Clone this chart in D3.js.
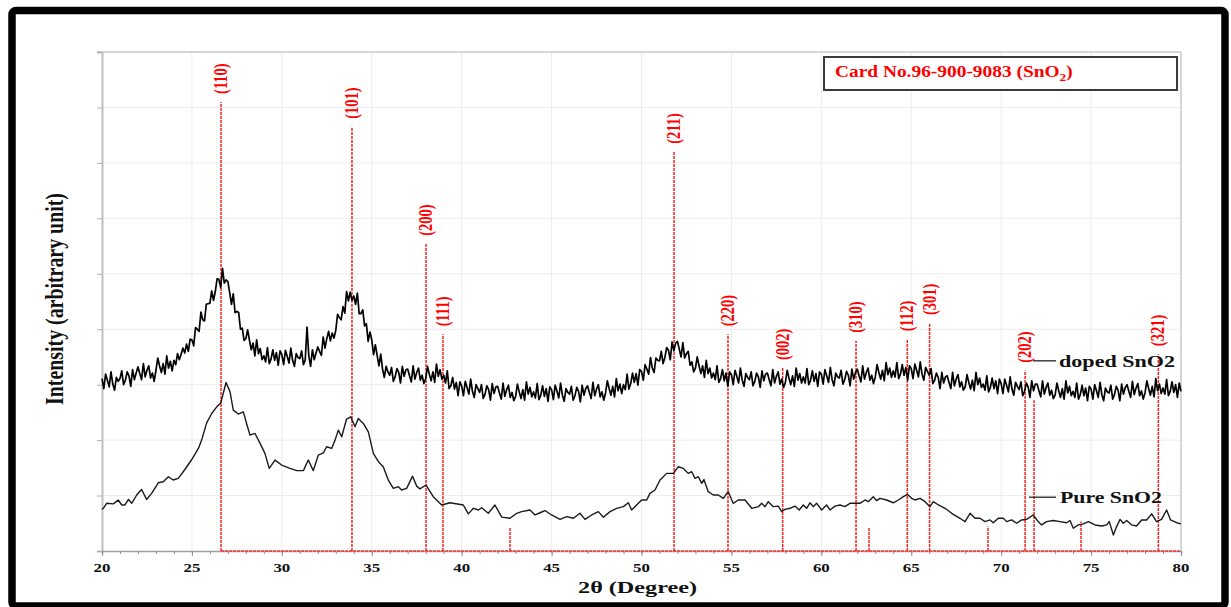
<!DOCTYPE html>
<html><head><meta charset="utf-8">
<script src="https://cdn.jsdelivr.net/npm/d3@7"></script>
<style>
body{margin:0;background:#fff}
svg{display:block}
text{font-family:"Liberation Serif","Times New Roman",serif;font-weight:bold}
</style>
</head><body>
<svg id="c" width="1231" height="607"></svg>
<script>
// ---------- DATA ----------
const xTickValues = [20,25,30,35,40,45,50,55,60,65,70,75,80];
const xMinorTicks = d3.range(20,81,1);
const yGridValues = [0,100,200,300,400,500,600,700,800,900];

// Doped SnO2: intensity sampled every 0.1° from 20.0° to 80.0°
const dopedStart = 20, dopedStep = 0.1;
const dopedIntensity = [
311,293,319,308,296,323,301,290,313,306,
311,325,300,308,323,316,297,327,309,321,
332,320,309,338,314,326,334,312,321,306,
326,348,334,322,338,319,352,330,342,325,
344,336,356,345,355,366,357,373,360,382,
381,370,403,400,396,431,417,415,445,446,
447,469,452,468,491,490,475,510,483,489,
486,466,445,464,430,432,430,400,402,380,
383,399,380,363,375,352,381,356,365,345,
352,341,367,338,346,363,344,358,335,361,
354,336,362,351,339,366,344,333,356,349,
347,361,336,344,404,352,333,363,345,357,
368,360,353,386,366,383,396,379,393,384,
398,427,421,417,441,429,468,451,467,452,
460,445,465,428,428,435,406,410,378,395,
381,354,372,353,334,355,328,313,333,323,
317,331,306,314,329,322,303,333,315,327,
328,316,305,334,310,322,330,308,317,302,
311,333,319,307,323,304,337,315,327,310,
317,303,325,293,298,313,292,304,280,305,
298,280,306,295,283,310,288,277,300,293,
286,300,275,283,298,291,272,302,284,296,
297,285,274,303,279,291,299,277,286,271,
279,301,287,275,291,272,305,283,295,278,
287,276,302,273,281,298,279,293,270,296,
291,273,299,288,276,303,281,270,293,286,
283,297,272,280,295,288,269,299,281,293,
298,286,275,304,280,292,300,278,287,272,
285,307,293,281,297,278,311,289,301,284,
300,291,319,292,302,321,304,320,299,327,
324,308,336,328,319,349,330,322,348,344,
343,360,338,349,367,362,345,377,361,375,
378,364,350,376,348,356,360,335,341,323,
330,350,334,320,334,313,344,320,330,312,
321,309,334,304,311,327,307,321,297,323,
318,300,326,315,303,330,308,297,320,313,
309,323,298,306,321,314,295,325,307,319,
321,309,298,327,303,315,323,301,310,295,
304,326,312,300,316,297,330,308,320,303,
314,303,329,300,308,325,306,320,297,323,
319,301,327,316,304,331,309,298,321,314,
312,326,301,309,324,317,298,328,310,322,
328,316,305,334,310,322,330,308,317,302,
314,336,322,310,326,307,340,318,330,313,
325,314,340,311,319,336,317,331,308,334,
329,311,337,326,314,341,319,308,331,324,
317,329,302,308,321,313,293,322,303,314,
316,304,293,322,298,310,318,296,305,290,
296,318,304,292,308,289,322,300,312,295,
301,290,316,287,295,312,293,307,284,310,
302,284,310,299,287,314,292,281,304,297,
291,305,280,288,303,296,277,307,289,301,
301,289,278,307,283,295,303,281,290,275,
281,303,289,277,293,274,307,285,297,280,
288,277,303,274,282,299,280,294,271,297,
292,274,300,289,277,304,282,271,294,287,
285,299,274,282,297,290,271,301,283,295,
300,288,277,306,282,294,302,280,289,274,
285,307,293,281,297,278,311,289,301,284,
294,283,309,280,288,305,286,300,277,303,
288
];

// Pure SnO2
const pureAngle = [20.0,20.07,20.26,20.63,20.9,21.1,21.28,21.47,21.65,21.93,22.2,22.48,22.76,23.13,23.41,23.69,23.96,24.24,24.61,24.99,25.36,25.54,25.82,26.1,26.38,26.6,26.9,27.12,27.3,27.58,27.86,28.04,28.23,28.51,28.79,29.06,29.3,29.62,29.99,30.45,30.83,31.2,31.47,31.75,32.03,32.31,32.49,32.77,32.96,33.14,33.33,33.6,33.83,34.07,34.25,34.53,34.81,35.09,35.37,35.64,35.92,36.2,36.48,36.66,36.94,37.27,37.5,37.68,38.02,38.42,38.89,39.35,40.09,40.37,40.65,40.93,41.11,41.48,41.85,42.23,42.69,43.06,43.34,43.8,44.08,44.36,44.63,45.0,45.47,45.84,46.21,46.58,46.86,47.23,47.6,47.88,48.25,48.62,48.99,49.27,49.45,49.73,50.01,50.29,50.47,50.75,51.03,51.4,51.77,52.05,52.33,52.6,52.79,52.98,53.16,53.35,53.47,53.71,53.99,54.27,54.55,54.82,55.1,55.38,55.76,56.13,56.5,56.68,56.87,57.05,57.33,57.61,57.79,57.98,58.26,58.53,58.77,59.0,59.18,59.37,59.55,59.74,60.02,60.29,60.48,60.76,61.04,61.31,61.59,61.87,62.15,62.43,62.61,62.89,63.07,63.26,63.63,64.0,64.28,64.56,64.8,65.02,65.21,65.49,65.77,66.04,66.23,66.51,66.88,67.25,67.71,67.99,68.27,68.55,68.82,69.1,69.38,69.56,69.84,70.12,70.3,70.58,70.86,71.14,71.41,71.78,72.06,72.25,72.52,72.9,73.27,73.64,73.83,74.01,74.29,74.57,74.85,75.22,75.59,75.87,76.01,76.24,76.42,76.61,76.79,76.98,77.26,77.53,77.81,78.09,78.37,78.64,78.92,79.2,79.42,79.76,80.0];
const pureIntensity = [75,77,86,85,92,83,83,93,86,101,111,93,104,123,125,134,128,131,147,165,185,200,231,248,260,267,304,287,254,247,251,230,209,212,194,176,149,164,155,149,145,145,164,145,173,177,188,185,200,218,206,238,242,224,239,230,215,176,161,152,128,113,116,110,113,135,117,112,119,98,83,87,83,67,77,74,78,68,83,61,59,68,71,74,65,69,73,65,57,62,59,68,57,65,71,61,71,77,80,87,74,83,92,92,104,110,128,140,140,152,149,140,143,131,134,122,129,107,101,101,95,107,86,92,92,77,80,86,80,89,80,81,71,75,77,81,74,83,77,87,80,86,74,83,74,81,83,80,86,86,86,92,89,98,91,95,92,87,92,98,102,95,92,95,89,80,89,83,77,68,59,53,68,59,59,53,56,51,59,59,53,56,50,56,57,65,53,47,53,55,53,51,55,41,47,49,53,47,45,47,53,29,44,57,50,55,47,45,56,56,67,53,57,74,56,51,49];

// Reference card 96-900-9083 (SnO2) stick pattern
const cardAngle     = [26.62,33.90,38.02,38.96,42.69,51.81,54.81,57.85,61.93,62.65,64.78,66.02,69.27,71.33,71.83,74.44,78.74];
const cardIntensity = [810,765,554,391,42,720,391,330,379,42,382,411,44,325,272,53,355];
const cardLabel     = ["(110)","(101)","(200)","(111)","","(211)","(220)","(002)","(310)","","(112)","(301)","","(202)","","","(321)"];

// Series labels with leader lines
const seriesName      = ["doped SnO2","Pure SnO2"];
const leaderStart     = [71.77,71.55];
const leaderEnd       = [73.05,73.05];
const leaderIntensity = [343,97];
const labelAngle      = [73.22,73.27];
const labelIntensity  = [332,87];
const labelWidth      = [116,102];

// ---------- CHART ----------
const svg = d3.select("#c");
const x = d3.scaleLinear().domain([20,80]).range([102,1181]);
const y = d3.scaleLinear().domain([0,900]).range([551,52]);
const STRETCH = 1.3;

// outer frame
svg.append("rect").attr("x",12).attr("y",10.5).attr("width",1213).attr("height",595.5)
  .attr("rx",4).attr("fill","#fff").attr("stroke","#000").attr("stroke-width",7.5);

// grid
const grid = svg.append("g");
grid.selectAll("line.v").data(xTickValues.slice(1,-1)).join("line")
  .attr("x1",d=>x(d)).attr("x2",d=>x(d)).attr("y1",y(0)).attr("y2",y(900))
  .attr("stroke","#ececec").attr("stroke-width",1);
grid.selectAll("line.h").data(yGridValues.slice(1,-1)).join("line")
  .attr("x1",x(20)).attr("x2",x(80)).attr("y1",d=>y(d)).attr("y2",d=>y(d))
  .attr("stroke","#ececec").attr("stroke-width",1);

// plot border (top / right)
svg.append("line").attr("x1",x(20)-5).attr("x2",x(80)).attr("y1",y(900)).attr("y2",y(900))
  .attr("stroke","#c8c8c8").attr("stroke-width",1.5);
svg.append("line").attr("x1",x(80)).attr("x2",x(80)).attr("y1",y(900)).attr("y2",y(0))
  .attr("stroke","#c8c8c8").attr("stroke-width",1.5);

// y axis
const yAxis = svg.append("g").attr("transform",`translate(${x(20)},0)`)
  .call(d3.axisLeft(y).tickValues(yGridValues).tickSize(5).tickFormat(""));
yAxis.select(".domain").attr("stroke","#c0c0c0").attr("stroke-width",2);
yAxis.selectAll(".tick line").attr("stroke","#b0b0b0");

// x axis (minor + major)
const xMinor = svg.append("g").attr("transform",`translate(0,${y(0)})`)
  .call(d3.axisBottom(x).tickValues(xMinorTicks).tickSize(3).tickFormat(""));
xMinor.select(".domain").attr("stroke","#a0a0a0").attr("stroke-width",1.5);
xMinor.selectAll(".tick line").attr("stroke","#909090");
const xMajor = svg.append("g").attr("transform",`translate(0,${y(0)})`)
  .call(d3.axisBottom(x).tickValues(xTickValues).tickSize(5).tickFormat(""));
xMajor.select(".domain").remove();
xMajor.selectAll(".tick line").attr("stroke","#909090");

// x tick labels
svg.append("g").selectAll("text").data(xTickValues).join("text")
  .attr("transform",d=>`translate(${x(d)},572) scale(1.25,1)`)
  .attr("text-anchor","middle").attr("font-size",13.5).attr("fill","#111")
  .text(d=>d);

// card stick pattern
const card = cardAngle.map((a,i)=>({a, v:cardIntensity[i], l:cardLabel[i]}));
svg.append("line").attr("x1",x(cardAngle[0])).attr("x2",x(80))
  .attr("y1",y(0)).attr("y2",y(0))
  .attr("stroke","#ff3030").attr("stroke-width",1.6).attr("stroke-dasharray","3,1");
svg.append("g").selectAll("line").data(card).join("line")
  .attr("x1",d=>x(d.a)).attr("x2",d=>x(d.a)).attr("y1",y(0)).attr("y2",d=>y(d.v))
  .attr("stroke","#ff2020").attr("stroke-width",1.5).attr("stroke-dasharray","3,1");
svg.append("g").selectAll("text").data(card.filter(d=>d.l)).join("text")
  .attr("transform",d=>`translate(${x(d.a)+6},${y(d.v)-8}) scale(${STRETCH},1) rotate(-90)`)
  .attr("text-anchor","start").attr("font-size",14.5).attr("fill","#ff0000")
  .text(d=>d.l);

// curves
const line = d3.line().x(d=>x(d[0])).y(d=>y(d[1]));
const doped = dopedIntensity.map((v,i)=>[dopedStart+i*dopedStep, v]);
const pure = pureAngle.map((a,i)=>[a, pureIntensity[i]]);
svg.append("path").datum(pure).attr("d",line).attr("fill","none")
  .attr("stroke","#1a1a1a").attr("stroke-width",1.4).attr("stroke-linejoin","round");
svg.append("path").datum(doped).attr("d",line).attr("fill","none")
  .attr("stroke","#000").attr("stroke-width",1.7).attr("stroke-linejoin","round");

// series labels
seriesName.forEach((n,i)=>{
  svg.append("line").attr("x1",x(leaderStart[i])).attr("x2",x(leaderEnd[i]))
    .attr("y1",y(leaderIntensity[i])).attr("y2",y(leaderIntensity[i]))
    .attr("stroke","#222").attr("stroke-width",1.3);
  const t = svg.append("text").attr("font-size",17).attr("fill","#111").text(n);
  const w = t.node().getComputedTextLength();
  t.attr("transform",`translate(${x(labelAngle[i])},${y(labelIntensity[i])}) scale(${labelWidth[i]/w},1)`);
});

// card legend box
svg.append("rect").attr("x",824).attr("y",57).attr("width",353).attr("height",33)
  .attr("fill","#fff").attr("stroke","#3a3a3a").attr("stroke-width",2);
const lg = svg.append("text").attr("font-size",16).attr("fill","#ff0000");
lg.append("tspan").text("Card No.96-900-9083 (SnO");
lg.append("tspan").attr("font-size",11).attr("dy",4).text("2");
lg.append("tspan").attr("dy",-4).text(")");
{
  const w = lg.node().getBBox().width;
  lg.attr("transform",`translate(835,77) scale(${238/w},1)`);
}

// axis titles
{
  const t = svg.append("text").attr("font-size",16).attr("fill","#111").attr("text-anchor","middle").text("2θ (Degree)");
  const w = t.node().getComputedTextLength();
  t.attr("transform",`translate(637.5,593) scale(${119/w},1)`);
}
{
  const t = svg.append("text").attr("font-size",20).attr("fill","#111").attr("text-anchor","middle").text("Intensity (arbitrary unit)");
  const w = t.node().getComputedTextLength();
  t.attr("font-size",20*212/w);
  t.attr("transform",`translate(63.3,299) scale(1.26,1) rotate(-90)`);
}
</script>
</body></html>
